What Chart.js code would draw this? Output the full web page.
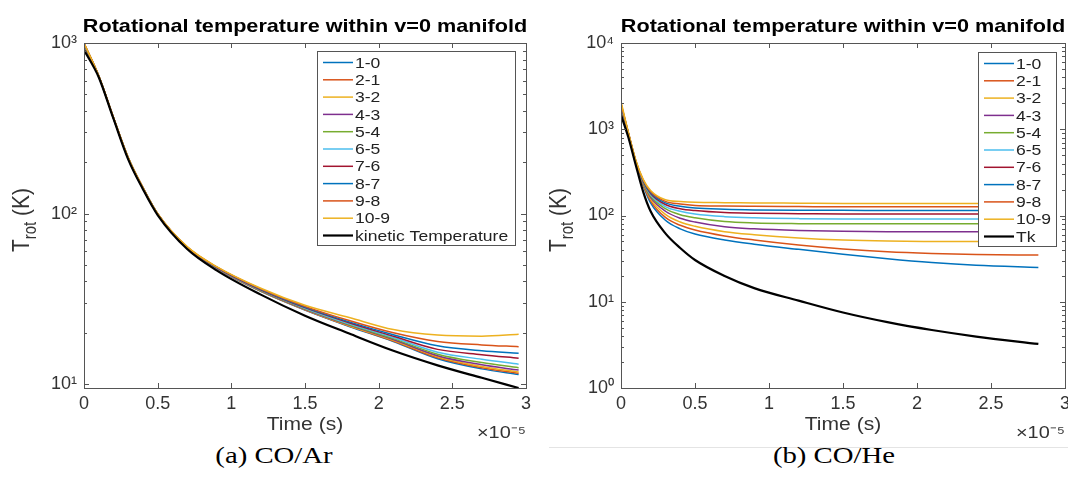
<!DOCTYPE html>
<html>
<head>
<meta charset="utf-8">
<script src="https://cdn.jsdelivr.net/npm/chart.js@4.4.1/dist/chart.umd.min.js"></script>
<style>
body { margin: 0; background: #fff; width: 1068px; height: 478px; overflow: hidden; position: relative; }
.pannello { position: absolute; top: 0; width: 534px; height: 440px; }
.didascalia { position: absolute; top: 443px; width: 200px; text-align: center; font-family: 'Liberation Serif'; font-size: 23px; color: #000; transform: scaleX(1.25); }
.riga { position: absolute; top: 447px; left: 549px; width: 519px; height: 1px; background: #e4e4e4; }
</style>
</head>
<body>
<div class="pannello" style="left:0"><canvas id="arChart" width="534" height="440"></canvas></div>
<div class="pannello" style="left:534px"><canvas id="heChart" width="534" height="440"></canvas></div>
<div class="riga"></div>
<div class="didascalia" style="left:174px">(a) CO/Ar</div>
<div class="didascalia" style="left:734px">(b) CO/He</div>
<script>
// dati (tempo in unita di 1e-5 s, temperature in K)
var timeTicks = [0, 0.5, 1, 1.5, 2, 2.5, 3];
var transitions = ['1-0', '2-1', '3-2', '4-3', '5-4', '6-5', '7-6', '8-7', '9-8', '10-9'];
var transitionColors = ['#0072BD', '#D95319', '#EDB120', '#7E2F8E', '#77AC30', '#4DBEEE', '#A2142F', '#0072BD', '#D95319', '#EDB120'];

var yTicksAr = [10, 100, 1000];
var yLabelsAr = ['10¹', '10²', '10³'];
var yTicksHe = [1, 10, 100, 1000, 10000];
var yLabelsHe = ['10⁰', '10¹', '10²', '10³', '10⁴'];

// CO/Ar
var timeAr = [0, 0.1, 0.2, 0.3, 0.4, 0.5, 0.7, 0.9, 1.2, 1.5, 1.8, 2.1, 2.4, 2.7, 2.95];
var kineticAr = [910, 630, 360, 208, 139, 98, 62, 46.5, 33.5, 25.2, 19.8, 15.7, 12.9, 10.9, 9.5];
var ar10 = [960, 638, 362, 210, 140, 99, 62.8, 47.6, 35.0, 27.2, 21.8, 17.8, 14.1, 12.3, 11.4];
var ar21 = [965, 638, 362, 211, 140, 99.1, 62.9, 47.7, 35.1, 27.3, 21.9, 17.9, 14.3, 12.5, 11.6];
var ar32 = [970, 639, 363, 211, 141, 99.2, 63.0, 47.8, 35.2, 27.4, 22.0, 18.1, 14.5, 12.7, 11.8];
var ar43 = [975, 639, 363, 211, 141, 99.3, 63.1, 47.9, 35.3, 27.5, 22.2, 18.3, 14.7, 13.0, 12.1];
var ar54 = [980, 640, 364, 212, 141, 99.4, 63.2, 48.0, 35.4, 27.7, 22.4, 18.5, 15.0, 13.4, 12.5];
var ar65 = [985, 640, 364, 212, 141, 99.5, 63.3, 48.1, 35.6, 27.9, 22.6, 18.8, 15.4, 14.0, 13.1];
var ar76 = [990, 641, 365, 212, 142, 99.6, 63.4, 48.3, 35.8, 28.1, 22.9, 19.1, 16.0, 14.9, 14.2];
var ar87 = [995, 641, 365, 213, 142, 99.7, 63.6, 48.5, 36.0, 28.3, 23.2, 19.5, 16.8, 15.7, 15.2];
var ar98 = [1000, 642, 366, 213, 142, 99.8, 63.8, 48.7, 36.2, 28.6, 23.6, 20.0, 17.8, 17.0, 16.6];
var ar109 = [1000, 642, 366, 213, 142, 99.9, 64.0, 48.9, 36.5, 29.0, 24.6, 20.9, 19.4, 19.1, 19.6];

// CO/He
var timeHe = [0, 0.05, 0.1, 0.15, 0.2, 0.3, 0.4, 0.5, 0.7, 0.9, 1.2, 1.5, 1.8, 2.1, 2.4, 2.82];
var kineticHe = [1460, 803, 383, 188, 112, 62, 42, 30.5, 19.9, 14.4, 10.3, 7.5, 5.8, 4.7, 3.95, 3.24];
var he10 = [1600, 860, 398, 222, 140, 88, 70, 61, 52, 46.5, 40.5, 35.5, 31.5, 28.5, 26.5, 25];
var he21 = [1650, 870, 403, 228, 148, 95, 77, 68, 58, 52, 45.5, 41, 38, 36.3, 35.3, 34.8];
var he32 = [1700, 880, 408, 233, 155, 103, 84, 75, 65, 60, 55, 52, 50.5, 50, 49.8, 49.7];
var he43 = [1750, 885, 412, 238, 162, 112, 93, 84, 74, 70, 67, 65.5, 65, 65, 65, 65];
var he54 = [1800, 890, 416, 242, 168, 120, 102, 94, 85, 82, 80.5, 80, 80, 80, 80, 80];
var he65 = [1850, 895, 420, 246, 174, 127, 112, 104, 97, 94, 92, 91, 91, 91, 91, 91];
var he76 = [1900, 900, 424, 250, 180, 134, 120, 114, 108, 106, 105, 104, 104, 104, 104, 104];
var he87 = [1950, 905, 428, 254, 185, 140, 128, 122, 118, 116, 115, 115, 114, 114, 114, 114];
var he98 = [2000, 910, 432, 258, 190, 146, 136, 131, 129, 128, 127, 126, 126, 126, 126, 126];
var he109 = [2100, 915, 436, 262, 195, 152, 145, 142, 141, 140, 139, 138, 138, 138, 138, 138];

var SX = 1.17;
var FONT = '"Liberation Sans", Arial, sans-serif';

function stretchedText(ctx, text, x, y, align) {
    ctx.save();
    ctx.translate(x, y);
    ctx.scale(SX, 1);
    ctx.textAlign = align;
    ctx.fillText(text, 0, 0);
    ctx.restore();
}

function line(ctx, x1, y1, x2, y2) {
    ctx.beginPath();
    ctx.moveTo(x1, y1);
    ctx.lineTo(x2, y2);
    ctx.stroke();
}

function drawBox(chart) {
    var ctx = chart.ctx, a = chart.chartArea;
    var xs = chart.scales.x, ys = chart.scales.y;
    ctx.save();
    ctx.strokeStyle = '#555';
    ctx.lineWidth = 1;
    ctx.strokeRect(Math.round(a.left) + 0.5, Math.round(a.top) + 0.5, Math.round(a.right - a.left), Math.round(a.bottom - a.top));
    timeTicks.forEach(function (v) {
        var px = Math.round(xs.getPixelForValue(v)) + 0.5;
        line(ctx, px, a.bottom, px, a.bottom - 5);
        line(ctx, px, a.top, px, a.top + 5);
    });
    for (var d = 1; d <= 10000; d *= 10) {
        for (var m = 1; m <= 9; m++) {
            var v = d * m;
            if (v < ys.min || v > ys.max) continue;
            var py = Math.round(ys.getPixelForValue(v)) + 0.5;
            var len = m == 1 ? 5 : 3;
            line(ctx, a.left, py, a.left + len, py);
            line(ctx, a.right, py, a.right - len, py);
        }
    }
    ctx.restore();
}

function drawLegend(chart, opts) {
    var ctx = chart.ctx, a = chart.chartArea;
    var sets = chart.data.datasets;
    var right = a.right - opts.marginRight;
    var left = right - opts.width;
    var top = a.top + opts.marginTop;
    var rowH = 17.3;
    var h = 11.5 + rowH * (sets.length - 1) + 9;
    ctx.save();
    ctx.fillStyle = '#fff';
    ctx.fillRect(left, top, opts.width, h);
    ctx.strokeStyle = '#555';
    ctx.lineWidth = 1;
    ctx.strokeRect(Math.round(left) + 0.5, Math.round(top) + 0.5, Math.round(opts.width), Math.round(h));
    ctx.font = '15px ' + FONT;
    ctx.textBaseline = 'middle';
    for (var i = 0; i < sets.length; i++) {
        var y = top + 11.5 + rowH * i;
        ctx.strokeStyle = sets[i].borderColor;
        ctx.lineWidth = sets[i].borderWidth;
        line(ctx, left + 6, y, left + 36, y);
        ctx.fillStyle = '#222';
        stretchedText(ctx, sets[i].label, left + 38, y + 1, 'left');
    }
    ctx.restore();
}

function drawTexts(chart, opts) {
    var ctx = chart.ctx, a = chart.chartArea;
    var cx = (a.left + a.right) / 2;
    ctx.save();
    ctx.fillStyle = '#000';
    ctx.font = 'bold 18.5px ' + FONT;
    ctx.textBaseline = 'alphabetic';
    stretchedText(ctx, opts.title, cx, 32, 'center');

    ctx.fillStyle = '#333';
    ctx.font = '18px ' + FONT;
    ctx.textBaseline = 'middle';
    stretchedText(ctx, 'Time (s)', cx, 425, 'center');
    ctx.font = '17px ' + FONT;
    stretchedText(ctx, '×10⁻⁵', a.right, 433, 'right');

    // T_rot (K) ruotato
    ctx.translate(a.left - 55, 220);
    ctx.scale(SX, 1);
    ctx.rotate(-Math.PI / 2);
    ctx.textBaseline = 'alphabetic';
    ctx.textAlign = 'left';
    ctx.font = '21px ' + FONT;
    var wT = ctx.measureText('T').width;
    var wK = ctx.measureText(' (K)').width;
    ctx.font = '15px ' + FONT;
    var wR = ctx.measureText('rot').width;
    var x0 = -(wT + wR + wK) / 2;
    ctx.font = '21px ' + FONT;
    ctx.fillText('T', x0, 0);
    ctx.font = '15px ' + FONT;
    ctx.fillText('rot', x0 + wT, 6);
    ctx.font = '21px ' + FONT;
    ctx.fillText(' (K)', x0 + wT + wR, 0);
    ctx.restore();
}

var pannelloPlugin = {
    id: 'pannello',
    afterDraw: function (chart, args, opts) {
        drawBox(chart);
        drawLegend(chart, opts);
        drawTexts(chart, opts);
    }
};

function makeDatasets(time, series, kinetic, kineticLabel) {
    var sets = [];
    for (var i = 0; i < series.length; i++) {
        var serie = series[i];
        sets.push({
            label: transitions[i],
            data: time.map(function (t, k) { return {x: t, y: serie[k]}; }),
            borderColor: transitionColors[i],
            borderWidth: 1.5,
            pointRadius: 0,
            fill: false,
            order: series.length - i,
            cubicInterpolationMode: 'monotone'
        });
    }
    sets.push({
        label: kineticLabel,
        data: time.map(function (t, k) { return {x: t, y: kinetic[k]}; }),
        borderColor: '#000',
        borderWidth: 2.2,
        pointRadius: 0,
        fill: false,
        order: 0,
        cubicInterpolationMode: 'monotone'
    });
    return sets;
}

function creaGrafico(id, datasets, yMin, yMax, yTicks, yLabels, rightPad, axisLeft, legend) {
    return new Chart(document.getElementById(id), {
        type: 'line',
        data: { datasets: datasets },
        plugins: [pannelloPlugin],
        options: {
            responsive: false,
            animation: false,
            devicePixelRatio: 1,
            layout: { padding: { top: 43, right: rightPad, left: 0, bottom: 0 } },
            plugins: {
                legend: { display: false },
                tooltip: { enabled: false },
                pannello: legend
            },
            scales: {
                x: {
                    type: 'linear',
                    min: 0,
                    max: 3,
                    afterBuildTicks: function (s) { s.ticks = timeTicks.map(function (v) { return {value: v}; }); },
                    afterFit: function (s) { s.height = 52; s.paddingLeft = 0; s.paddingRight = 0; },
                    grid: { display: false, drawTicks: false },
                    border: { display: false },
                    ticks: {
                        autoSkip: false,
                        maxRotation: 0,
                        padding: 5,
                        color: '#333',
                        font: { family: FONT, size: 18 },
                        callback: function (v) { return String(v); }
                    }
                },
                y: {
                    type: 'logarithmic',
                    min: yMin,
                    max: yMax,
                    afterBuildTicks: function (s) { s.ticks = yTicks.map(function (v) { return {value: v}; }); },
                    afterFit: function (s) { s.width = axisLeft; },
                    grid: { display: false, drawTicks: false },
                    border: { display: false },
                    ticks: {
                        autoSkip: false,
                        padding: 7,
                        color: '#333',
                        font: { family: FONT, size: 18 },
                        callback: function (v, i) { return yLabels[i]; }
                    }
                }
            }
        }
    });
}

var arSeries = [ar10, ar21, ar32, ar43, ar54, ar65, ar76, ar87, ar98, ar109];
var heSeries = [he10, he21, he32, he43, he54, he65, he76, he87, he98, he109];

creaGrafico('arChart', makeDatasets(timeAr, arSeries, kineticAr, 'kinetic Temperature'),
    9.5, 1000, yTicksAr, yLabelsAr, 8, 84,
    { title: 'Rotational temperature within v=0 manifold', width: 198, marginRight: 11, marginTop: 8 });

creaGrafico('heChart', makeDatasets(timeHe, heSeries, kineticHe, 'Tk'),
    1, 10000, yTicksHe, yLabelsHe, 3, 87,
    { title: 'Rotational temperature within v=0 manifold', width: 78, marginRight: 9, marginTop: 9 });
</script>
</body>
</html>
